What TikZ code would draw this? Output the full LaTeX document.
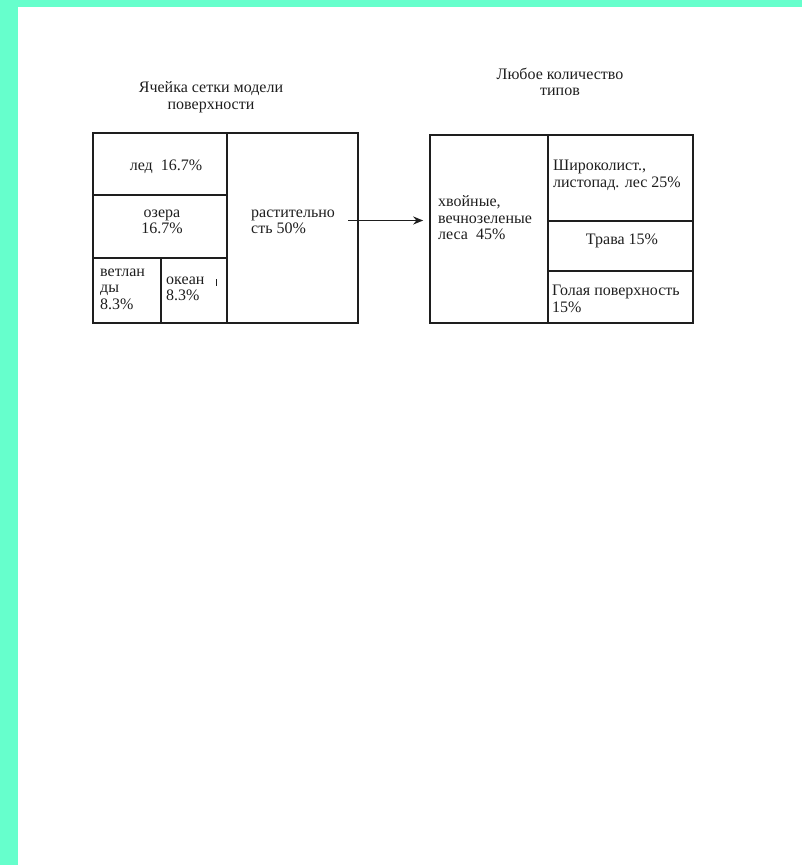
\documentclass[tikz,border=0pt]{standalone}
\usepackage{fontspec}
\setmainfont{Liberation Serif}
\usetikzlibrary{arrows.meta}
\definecolor{aqua}{HTML}{66FFCC}
\definecolor{ink}{HTML}{1E1E1E}
\tikzset{
  cell/.style={draw=ink, line width=1.7pt, minimum width=#1, inner sep=0pt},
  txt/.style={font=\fontsize{16}{16.5}\selectfont, inner sep=0pt, text=ink},
  ltxt/.style={txt, align=left, anchor=west},
  ctxt/.style={txt, align=center},
  conn/.style={draw=ink, line width=1.8pt, -{Stealth[length=10pt,width=8pt]}}
}
\begin{document}
\begin{tikzpicture}[x=1pt,y=-1pt]
\useasboundingbox (0,0) rectangle (802,865);
\fill[aqua] (0,0) rectangle (802,7);
\fill[aqua] (0,0) rectangle (18,865);
% titles
\node[ctxt] (t1) at (211,97) {Ячейка сетки модели\\поверхности};
\node[ctxt] (t2) at (560,82) {Любое количество\\типов};
% left box cells
\node[cell=134pt, minimum height=62pt] (ice) at (159.7,164) {};
\node[cell=134pt, minimum height=62.7pt] (lake) at (159.7,226.35) {};
\node[cell=68pt, minimum height=65.6pt] (wet) at (126.7,290.5) {};
\node[cell=66pt, minimum height=65.6pt] (ocean) at (193.7,290.5) {};
\node[cell=131.6pt, minimum height=190pt] (veg) at (292.5,228.3) {};
% right box cells
\node[cell=118.3pt, minimum height=188.6pt] (conif) at (489.2,229) {};
\node[cell=145pt, minimum height=86.3pt] (broad) at (620.8,177.85) {};
\node[cell=145pt, minimum height=50pt] (grass) at (620.8,246) {};
\node[cell=145pt, minimum height=52.3pt] (bare) at (620.8,297.15) {};
% texts
\node[ctxt] (ticeT) at (166,167) {лед\ \ 16.7\%};
\node[ctxt] (tlakeT) at (162,222) {озера\\16.7\%};
\node[ltxt] (twetT) at (100,289) {ветлан\\ды\\8.3\%};
\node[ltxt] (toceanT) at (166,289) {океан\\8.3\%};
\node[ltxt] (tvegT) at (251,222) {растительно\\сть 50\%};
\node[ltxt] (tconifT) at (438,218) {хвойные,\\вечнозеленые\\леса\ \ 45\%};
\node[ltxt] (tbroadT) at (553,175.5) {Широколист.,\\листопад. лес 25\%};
\node[ctxt] (tgrassT) at (622,241) {Трава 15\%};
\node[ltxt] (tbareT) at (552,299) {Голая поверхность\\15\%};
% connector
\coordinate (arrS) at (348,220.5);
\draw[conn, shorten >=6pt] (arrS) -- (arrS -| conif.west);
% small marks
\coordinate (tk) at (216,279);
\draw[ink, line width=1pt] (tk) -- ++(0,7);
\end{tikzpicture}
\end{document}
